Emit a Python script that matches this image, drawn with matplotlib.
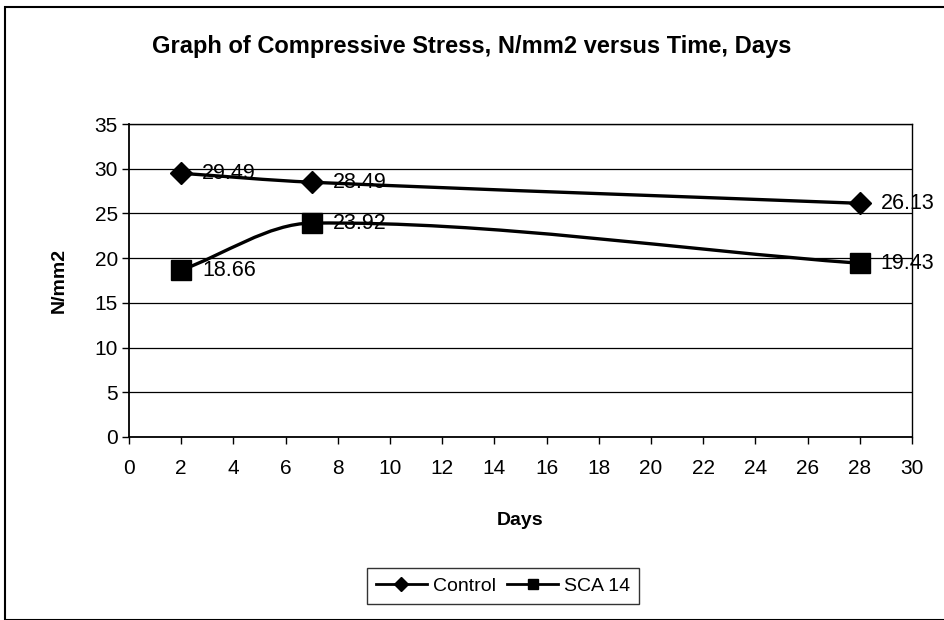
import matplotlib
matplotlib.use("Agg")
import matplotlib.pyplot as plt
from matplotlib.path import Path
from matplotlib.patches import PathPatch, Rectangle
from matplotlib.lines import Line2D
import numpy as np

plt.rcParams['font.family'] = ['Liberation Sans', 'DejaVu Sans']

days = [2, 7, 28]
control = [29.49, 28.49, 26.13]
sca14 = [18.66, 23.92, 19.43]
series_names = ["Control", "SCA 14"]
x_ticks = list(range(0, 31, 2))
y_ticks = list(range(0, 36, 5))
title = "Graph of Compressive Stress, N/mm2 versus Time, Days"

W, H = 945, 620
fig = plt.figure(figsize=(W / 100, H / 100), dpi=100)
ax = fig.add_axes([129 / W, 1 - 437 / H, (912 - 129) / W, (437 - 124) / H])

def smooth_path(xs, ys):
    # smoothed line drawn as cubic Bezier segments (Hermite tangents)
    xs = np.asarray(xs, float)
    ys = np.asarray(ys, float)
    n = len(xs)
    m = np.zeros(n)
    for i in range(n):
        a = max(i - 1, 0)
        b = min(i + 1, n - 1)
        m[i] = (ys[b] - ys[a]) / (xs[b] - xs[a])
    verts = [(xs[0], ys[0])]
    codes = [Path.MOVETO]
    for i in range(n - 1):
        h = xs[i + 1] - xs[i]
        c1 = (xs[i] + h / 3, ys[i] + m[i] * h / 3)
        c2 = (xs[i + 1] - h / 3, ys[i + 1] - m[i + 1] * h / 3)
        verts += [c1, c2, (xs[i + 1], ys[i + 1])]
        codes += [Path.CURVE4] * 3
    return Path(verts, codes)

for vals, mk, ms in [(control, 'D', 11), (sca14, 's', 14)]:
    ax.add_patch(PathPatch(smooth_path(days, vals), fill=False, edgecolor='black', lw=2.4, zorder=3))
    ax.plot(days, vals, linestyle='none', marker=mk, markersize=ms, color='black', zorder=4)
    for d, v in zip(days, vals):
        ax.annotate(f"{v:.2f}", (d, v), xytext=(15, 0), textcoords='offset points',
                    ha='left', va='center', fontsize=15.5, zorder=5)

ax.set_xlim(0, 30)
ax.set_ylim(0, 35)
ax.set_xticks(x_ticks)
ax.set_yticks(y_ticks)
ax.tick_params(axis='both', direction='out', length=5, width=1, labelsize=15, color='black')
ax.tick_params(axis='x', pad=11)
ax.tick_params(axis='y', pad=3)
ax.grid(axis='y', color='black', lw=0.9)
ax.set_axisbelow(True)
for s in ax.spines.values():
    s.set_color('black')
    s.set_linewidth(1.0)
ax.spines['left'].set_linewidth(1.3)
ax.spines['bottom'].set_linewidth(1.3)

ax.set_xlabel("Days", fontsize=14, fontweight='bold', labelpad=24)
ax.set_ylabel("N/mm2", fontsize=14, fontweight='bold', labelpad=19)

fig.text(472 / W, 1 - 47 / H, title, ha='center', va='center', fontsize=17, fontweight='bold')

handles = [Line2D([], [], color='black', lw=2, marker='D', markersize=7),
           Line2D([], [], color='black', lw=2, marker='s', markersize=7)]
leg = fig.legend(handles, series_names, loc='center', bbox_to_anchor=(503 / W, 1 - 586 / H),
                 ncol=2, frameon=True, fancybox=False, fontsize=14, handlelength=2.6,
                 columnspacing=0.6, handletextpad=0.3, borderpad=0.45, edgecolor='black')
leg.get_frame().set_linewidth(1.0)

# outer chart border
fig.add_artist(Rectangle((5 / W, 0), 1.2, 1 - 7 / H, transform=fig.transFigure,
                         fill=False, edgecolor='black', lw=1.5))

fig.savefig("out.png", dpi=100, facecolor='white')
